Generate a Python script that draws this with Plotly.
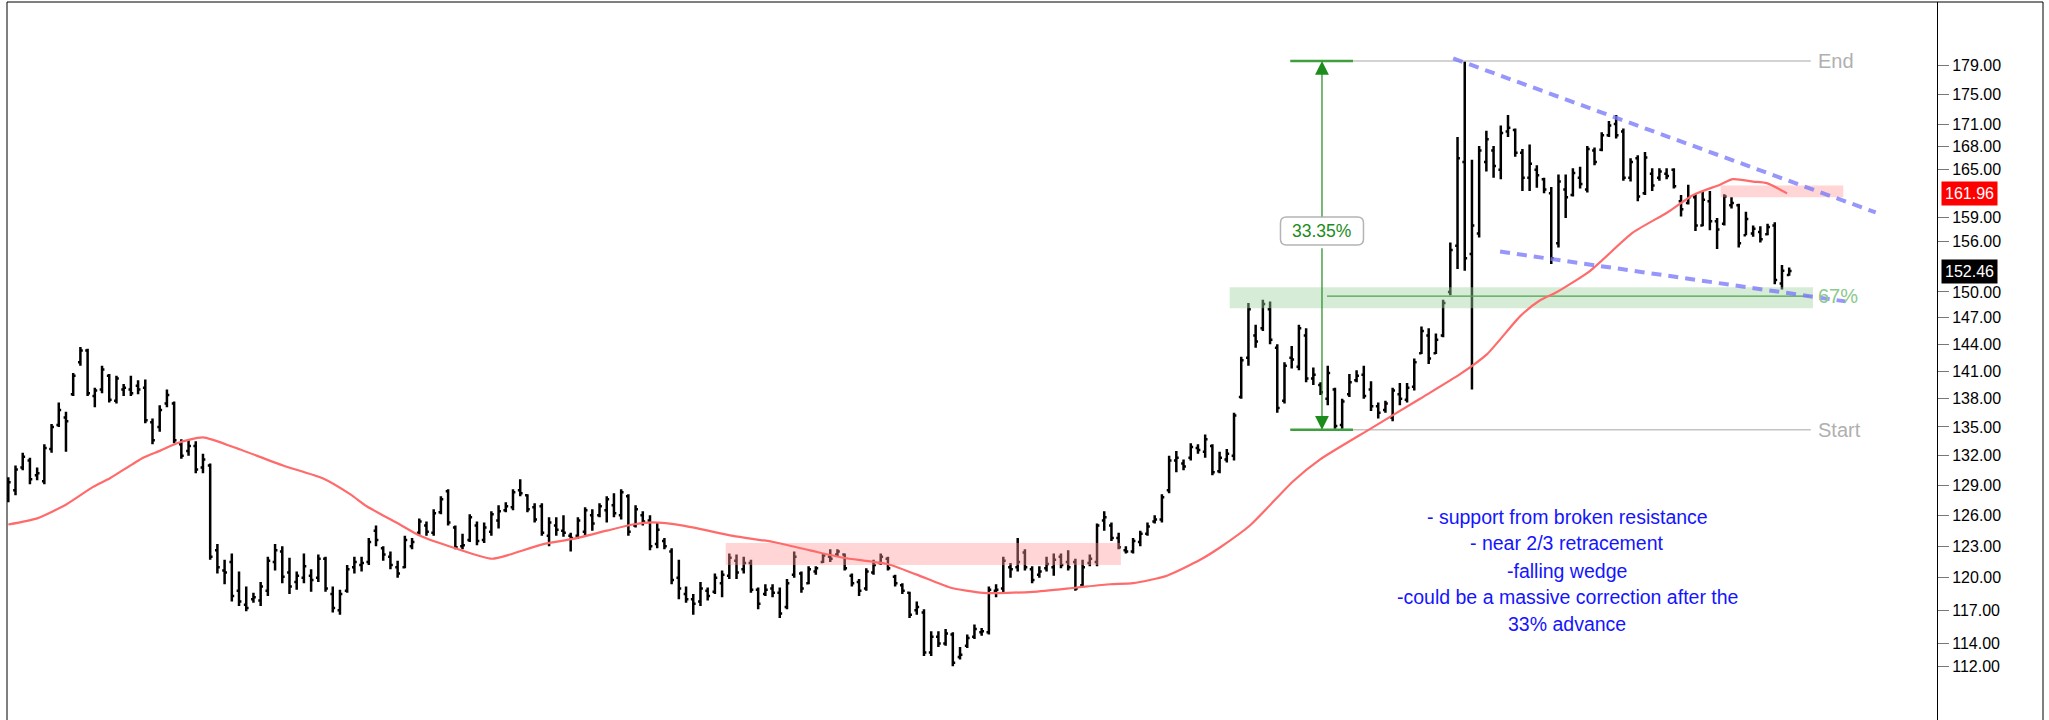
import math
import plotly.graph_objects as go

# ---- daily OHLC bars ----
highs = [
    129.8, 131.0, 132.3, 131.8, 130.8, 133.2, 135.3, 137.6, 136.6, 140.8,
    143.7, 143.5, 139.2, 141.6, 140.7, 140.5, 139.6, 140.5, 140.0, 140.1,
    135.9, 137.3, 139.0, 137.7, 133.7, 133.7, 133.5, 132.2, 131.2, 123.2,
    121.7, 122.3, 120.6, 119.2, 118.6, 119.6, 122.0, 123.2, 123.0, 121.9,
    120.6, 122.3, 120.8, 122.2, 122.0, 119.2, 118.9, 121.2, 122.0, 122.0,
    123.8, 125.0, 123.0, 122.5, 121.6, 124.0, 123.8, 125.7, 125.4, 126.6,
    127.9, 128.6, 125.0, 124.2, 126.1, 125.4, 125.3, 126.4, 127.0, 127.3,
    128.6, 129.6, 128.1, 127.2, 127.2, 125.8, 125.8, 126.0, 124.3, 125.8,
    126.8, 126.6, 127.2, 127.9, 128.2, 128.6, 128.1, 127.0, 126.4, 126.0,
    125.3, 123.8, 122.8, 121.7, 119.2, 118.5, 119.6, 119.1, 120.4, 120.7,
    122.3, 122.2, 122.0, 121.7, 119.1, 119.4, 119.4, 119.1, 119.9, 122.5,
    120.6, 121.1, 121.1, 122.3, 122.7, 122.7, 122.3, 120.4, 119.9, 120.9,
    121.7, 122.3, 122.0, 120.3, 119.5, 118.7, 117.8, 117.1, 115.1, 115.1,
    115.3, 115.0, 113.7, 114.8, 115.7, 115.4, 119.2, 119.4, 122.0, 121.4,
    123.8, 122.7, 121.1, 121.1, 122.0, 122.3, 122.3, 122.6, 121.8, 121.7,
    122.2, 125.2, 126.4, 125.3, 124.3, 123.0, 123.8, 124.5, 125.3, 126.0,
    128.1, 132.0, 132.5, 131.6, 133.3, 133.2, 134.2, 133.2, 132.4, 132.7,
    136.5, 142.6, 148.7, 146.2, 149.1, 148.9, 144.0, 142.0, 143.8, 146.2,
    145.8, 141.4, 139.8, 141.6, 139.2, 138.0, 140.7, 141.1, 141.6, 139.9,
    137.6, 137.8, 139.2, 139.7, 139.7, 142.4, 146.0, 145.8, 145.2, 149.1,
    155.9, 169.3, 179.62, 166.3, 168.1, 170.1, 168.1, 170.8, 172.2, 170.4,
    167.7, 168.3, 165.6, 164.0, 162.8, 164.4, 164.4, 165.2, 165.4, 168.1,
    167.9, 169.9, 171.4, 172.2, 170.4, 166.5, 166.9, 167.3, 165.2, 165.2,
    165.2, 165.2, 161.8, 163.1, 161.9, 162.3, 162.3, 158.9, 161.9, 161.5,
    160.7, 159.7, 158.0, 157.9, 158.2, 158.4, 153.2, 152.9,
]
lows = [
    127.3, 128.0, 130.5, 129.1, 129.5, 129.1, 132.3, 135.0, 132.4, 138.3,
    141.6, 138.3, 137.1, 138.6, 137.6, 137.5, 138.3, 138.3, 138.5, 135.4,
    133.2, 134.5, 137.1, 133.3, 131.7, 132.0, 130.2, 130.2, 121.7, 120.4,
    119.4, 117.8, 117.4, 116.9, 117.7, 117.4, 118.3, 120.7, 119.5, 118.5,
    118.9, 119.5, 118.7, 119.6, 118.7, 116.8, 116.6, 118.6, 120.4, 120.6,
    121.2, 123.0, 121.6, 120.8, 120.0, 120.9, 122.7, 124.1, 124.0, 124.0,
    126.1, 125.0, 122.7, 122.7, 123.4, 123.1, 123.3, 124.0, 124.7, 126.3,
    126.5, 127.9, 126.3, 125.3, 124.0, 123.0, 124.0, 123.9, 122.5, 123.7,
    124.0, 124.5, 125.8, 125.3, 125.8, 125.6, 124.0, 124.8, 125.0, 122.6,
    122.8, 122.7, 119.4, 118.0, 117.7, 116.6, 117.4, 117.9, 118.5, 118.2,
    119.9, 119.9, 120.4, 118.6, 117.1, 118.3, 118.2, 116.3, 117.1, 120.0,
    118.6, 119.4, 120.3, 121.4, 121.5, 122.0, 120.7, 119.2, 118.3, 118.8,
    120.3, 121.2, 120.7, 119.2, 118.5, 116.3, 116.6, 112.9, 112.9, 113.7,
    113.8, 112.0, 112.6, 113.6, 114.4, 114.7, 114.8, 118.2, 118.6, 120.0,
    120.6, 120.7, 119.5, 120.0, 120.6, 120.2, 120.9, 120.7, 118.8, 119.2,
    121.1, 121.1, 124.5, 123.5, 122.7, 122.3, 122.3, 123.0, 124.0, 125.2,
    125.3, 128.2, 130.3, 130.5, 131.5, 132.2, 131.8, 130.0, 130.2, 131.3,
    131.5, 138.0, 141.6, 143.6, 145.5, 144.0, 136.5, 137.5, 141.3, 141.1,
    139.8, 139.5, 138.4, 137.3, 134.8, 134.8, 138.2, 139.8, 138.0, 136.7,
    135.9, 136.5, 135.6, 137.3, 137.6, 138.9, 142.9, 141.8, 142.9, 144.8,
    149.6, 152.7, 152.5, 139.0, 156.5, 164.8, 164.0, 163.8, 169.3, 166.7,
    162.3, 162.3, 162.7, 162.0, 153.3, 155.3, 158.9, 161.6, 162.6, 162.1,
    165.6, 167.4, 169.3, 169.1, 163.6, 163.5, 161.0, 161.8, 162.3, 163.6,
    163.8, 162.6, 159.1, 160.6, 157.3, 157.9, 157.4, 155.1, 158.0, 160.1,
    155.3, 156.8, 156.6, 155.9, 156.8, 150.9, 150.3, 151.9,
]
opens = [
    128.0, 128.5, 130.8, 131.5, 130.0, 129.4, 132.7, 135.2, 136.0, 138.5,
    142.0, 143.3, 138.3, 139.0, 140.5, 137.8, 139.0, 139.0, 139.4, 139.2,
    135.5, 135.0, 137.5, 137.5, 133.2, 132.5, 133.0, 130.8, 131.0, 122.6,
    120.7, 121.5, 118.8, 117.5, 118.0, 117.9, 118.8, 121.5, 122.5, 120.5,
    119.6, 120.0, 120.2, 120.0, 121.8, 118.5, 117.0, 118.8, 121.0, 121.2,
    121.5, 124.5, 122.8, 122.0, 121.0, 121.0, 123.0, 124.3, 125.0, 124.3,
    126.3, 128.4, 124.8, 123.0, 123.6, 125.0, 123.6, 124.4, 125.5, 126.5,
    126.8, 128.5, 128.0, 126.8, 126.9, 124.0, 125.0, 124.5, 124.0, 124.0,
    124.4, 126.0, 126.0, 126.5, 127.0, 126.0, 127.9, 125.0, 126.0, 125.5,
    123.2, 123.5, 122.5, 120.0, 118.5, 118.0, 117.8, 118.8, 118.7, 119.5,
    120.2, 121.6, 120.8, 121.4, 118.9, 118.5, 119.0, 118.6, 117.3, 120.3,
    120.4, 119.5, 120.6, 121.5, 122.0, 122.2, 122.2, 120.2, 119.6, 119.0,
    120.5, 121.4, 121.8, 120.1, 119.3, 118.6, 117.0, 116.8, 113.2, 114.6,
    114.0, 114.8, 112.8, 113.8, 114.6, 115.0, 115.0, 118.8, 119.0, 121.0,
    121.0, 122.4, 120.8, 120.3, 120.9, 121.0, 122.0, 121.5, 121.5, 119.3,
    121.4, 121.5, 125.5, 125.0, 123.8, 122.6, 122.5, 123.4, 124.2, 125.4,
    125.6, 128.5, 131.5, 131.2, 131.8, 132.8, 132.4, 133.0, 130.4, 131.6,
    132.0, 138.2, 142.5, 145.0, 145.8, 148.0, 143.6, 137.8, 142.5, 141.5,
    145.0, 140.2, 139.5, 138.0, 139.0, 135.2, 138.5, 140.0, 140.6, 139.0,
    137.2, 136.8, 136.0, 138.5, 137.9, 139.3, 143.0, 145.0, 143.0, 145.0,
    150.0, 155.5, 166.0, 154.5, 157.0, 166.0, 167.5, 165.0, 170.0, 170.2,
    167.2, 164.0, 165.0, 163.8, 162.0, 155.8, 162.5, 161.8, 164.0, 162.5,
    167.5, 167.6, 169.5, 171.0, 170.0, 164.0, 166.5, 162.0, 164.5, 164.0,
    164.5, 165.0, 161.0, 160.8, 161.5, 158.0, 161.0, 158.5, 158.2, 160.5,
    160.5, 156.8, 157.0, 157.2, 156.9, 158.0, 151.0, 152.0,
]
closes = [
    129.3, 130.6, 131.9, 129.6, 130.2, 132.8, 135.0, 136.8, 135.6, 140.5,
    143.3, 138.6, 138.9, 141.2, 137.9, 140.2, 139.2, 138.6, 139.0, 135.7,
    133.6, 136.8, 138.4, 133.6, 132.0, 133.0, 130.6, 131.6, 122.0, 121.0,
    120.5, 118.3, 117.8, 117.2, 118.2, 119.2, 121.6, 122.6, 120.1, 119.2,
    120.2, 121.1, 119.8, 121.8, 119.0, 117.2, 118.5, 120.8, 121.5, 121.4,
    123.4, 123.6, 122.2, 121.2, 120.4, 123.6, 123.4, 125.4, 124.4, 126.2,
    127.6, 125.3, 122.9, 123.1, 125.8, 123.5, 124.8, 126.1, 126.4, 126.9,
    128.3, 128.2, 126.6, 125.6, 124.3, 125.3, 124.6, 124.3, 123.8, 125.5,
    126.5, 125.2, 126.9, 127.6, 126.2, 128.3, 124.4, 126.6, 125.4, 123.0,
    124.6, 123.0, 119.8, 119.0, 118.0, 117.6, 119.0, 118.3, 120.0, 120.3,
    121.9, 120.5, 121.4, 118.9, 117.6, 118.9, 118.6, 116.7, 119.5, 122.0,
    119.0, 120.8, 120.9, 122.1, 121.8, 122.5, 120.9, 119.5, 118.8, 120.6,
    121.2, 122.0, 120.9, 119.5, 118.8, 116.6, 117.3, 113.2, 114.6, 114.0,
    114.9, 112.3, 113.0, 114.5, 115.3, 115.1, 118.9, 118.9, 121.6, 120.8,
    121.5, 121.0, 119.8, 120.6, 121.3, 121.7, 121.2, 121.0, 119.0, 121.0,
    121.8, 125.0, 125.8, 123.8, 122.9, 122.5, 123.5, 124.2, 124.9, 125.6,
    127.8, 131.5, 131.8, 130.9, 132.9, 132.6, 133.7, 130.3, 131.8, 132.2,
    136.2, 142.2, 148.0, 144.3, 148.6, 144.5, 137.0, 141.6, 142.3, 145.8,
    140.2, 140.6, 138.7, 140.8, 135.1, 137.7, 139.8, 140.5, 138.3, 137.2,
    136.5, 137.5, 138.9, 138.0, 139.2, 142.0, 145.5, 142.4, 144.5, 148.7,
    155.0, 166.5, 154.0, 158.0, 167.5, 169.0, 165.5, 169.8, 170.5, 167.2,
    164.0, 165.8, 164.3, 162.5, 154.0, 163.5, 161.5, 164.6, 163.2, 167.7,
    166.0, 169.5, 170.8, 169.5, 164.0, 166.0, 161.6, 166.6, 163.0, 164.8,
    164.2, 162.9, 160.0, 161.5, 158.0, 161.2, 158.5, 157.5, 161.6, 160.8,
    155.8, 158.8, 157.6, 156.3, 157.8, 151.4, 152.5, 152.46,
]
bars = list(range(len(highs)))

# ---- 50-day moving average (bar index, value) ----
ma_idx = [0.0, 4.0, 8.1, 11.7, 14.1, 18.7, 21.0, 23.4, 27.0, 31.2,
          38.1, 43.6, 47.4, 49.7, 54.3, 57.1, 62.0, 67.1, 69.6, 74.2,
          78.3, 83.0, 86.6, 89.4, 93.6, 100.5, 106.1, 111.2, 115.8, 121.9,
          126.0, 130.6, 135.2, 142.1, 148.2, 152.8, 156.0, 160.7, 165.3, 168.1,
          172.2, 178.2, 181.9, 188.9, 195.8, 201.4, 205.1, 209.7, 212.4, 214.8,
          219.4, 225.3, 230.1, 233.7, 237.4, 239.2, 242.0, 243.9, 246.7]
ma_val = [125.1, 125.7, 127.1, 128.8, 129.7, 131.8, 132.5, 133.3, 133.9, 132.9,
          131.0, 129.7, 128.1, 126.9, 125.1, 124.0, 122.8, 121.8, 122.2, 123.2,
          123.7, 124.5, 125.1, 125.3, 125.0, 124.0, 123.4, 122.6, 121.9, 121.3,
          120.3, 119.1, 118.6, 118.7, 119.1, 119.4, 119.5, 120.2, 121.7, 122.9,
          125.0, 129.4, 131.6, 134.8, 138.0, 140.7, 142.9, 147.2, 149.0, 150.0,
          152.5, 157.1, 159.6, 161.8, 163.1, 163.8, 163.5, 163.3, 162.0]

# ---- price axis ticks ----
ytick_vals = [112, 114, 117, 120, 123, 126, 129, 132, 135, 138, 141, 144,
              147, 150, 156, 159, 165, 168, 171, 175, 179]
ytick_text = [f"{v:.2f}" for v in ytick_vals]

# ---- measured move and retracement ----
move_start = 134.7
move_end = 179.62
move_bar = 182.2               # bar index where the measuring arrow sits
move_from, move_to = 182.9, 250.0
retrace_frac = 0.67
retrace_level = move_end - retrace_frac * (move_end - move_start)

# ---- zones ----
support_zone = dict(x0=169.4, x1=250.3, lo=148.1, hi=150.55)
resist_zone_old = dict(x0=99.5, x1=154.3, lo=121.2, hi=123.3)
resist_zone_new = dict(x0=237.5, x1=254.5, lo=161.5, hi=163.0)

# ---- wedge trend lines (bar index, price) ----
wedge_upper = ([200.4, 259.0], [180.0, 159.6])
wedge_lower = ([206.9, 254.8], [154.8, 148.9])

last_ma = 161.96
last_close = closes[-1]

notes = ["- support from broken resistance",
         "- near 2/3 retracement",
         "-falling wedge",
         "-could be a massive correction after the",
         "33% advance"]

# ---- geometry of the page ----
W, H = 2049, 720
ML, MR, MT, MB = 7, 112, 2, 0
plot_w = W - ML - MR
plot_h = H - MT - MB
x_range = [-0.18, 267.5]
y_range = [2.03099, 2.27438]

def xp(px):
    return (px - ML) / plot_w

def yp(py):
    return 1 - (py - MT) / plot_h

FONT = "Arial, Liberation Sans, sans-serif"

fig = go.Figure()

def zone(z, color):
    fig.add_trace(go.Scatter(
        x=[z["x0"], z["x1"], z["x1"], z["x0"], z["x0"]],
        y=[z["lo"], z["lo"], z["hi"], z["hi"], z["lo"]],
        fill="toself", fillcolor=color, mode="lines",
        line=dict(width=0), hoverinfo="skip", showlegend=False))

zone(support_zone, "rgba(160,210,160,0.42)")
zone(resist_zone_old, "rgba(255,150,150,0.40)")
zone(resist_zone_new, "rgba(255,150,150,0.40)")

def hline(x0, x1, y, color, width):
    fig.add_trace(go.Scatter(x=[x0, x1], y=[y, y], mode="lines",
                             line=dict(color=color, width=width),
                             hoverinfo="skip", showlegend=False))

# start / end reference lines and the 67% retracement line
hline(move_from, move_to, move_end, "#c4c4c4", 1.5)
hline(move_from, move_to, move_start, "#c4c4c4", 1.5)
hline(move_from, move_to, retrace_level, "#4ea24e", 1.2)
hline(move_bar - 4.4, move_bar + 4.3, move_end, "#3f9f3f", 2.5)
hline(move_bar - 4.4, move_bar + 4.3, move_start, "#3f9f3f", 2.5)

# OHLC bars
fig.add_trace(go.Ohlc(
    x=bars, open=opens, high=highs, low=lows, close=closes,
    increasing=dict(line=dict(color="black", width=2.5)),
    decreasing=dict(line=dict(color="black", width=2.5)),
    tickwidth=0.33, hoverinfo="skip", showlegend=False))

# moving average
fig.add_trace(go.Scatter(x=ma_idx, y=ma_val, mode="lines",
                         line=dict(color="#ff6b6b", width=2.2, shape="spline", smoothing=0.6),
                         hoverinfo="skip", showlegend=False))

# falling wedge
for wx, wy in (wedge_upper, wedge_lower):
    fig.add_trace(go.Scatter(x=wx, y=wy, mode="lines",
                             line=dict(color="rgba(120,120,250,0.78)", width=4, dash="10px,7px"),
                             hoverinfo="skip", showlegend=False))

annotations = []

# measuring arrow (two halves, leaving room for the percentage box)
GREEN = "#1c8c1c"
annotations.append(dict(x=move_bar, y=math.log10(move_end), xref="x", yref="y",
                        text="", showarrow=True, ax=0, ay=157,
                        arrowhead=2, arrowsize=2.3, arrowwidth=1.2, arrowcolor=GREEN))
annotations.append(dict(x=move_bar, y=math.log10(move_start), xref="x", yref="y",
                        text="", showarrow=True, ax=0, ay=-183,
                        arrowhead=2, arrowsize=2.3, arrowwidth=1.2, arrowcolor=GREEN))

label_price = 157.3
box_x = (move_bar - x_range[0]) / (x_range[1] - x_range[0])
box_y = (math.log10(label_price) - y_range[0]) / (y_range[1] - y_range[0])
pct = (move_end / move_start - 1) * 100
annotations.append(dict(x=move_bar, y=math.log10(label_price), xref="x", yref="y",
                        text=f"{pct:.2f}%", showarrow=False,
                        font=dict(family=FONT, size=17.5, color=GREEN)))

# End / Start / 67% labels
label_bar = 250.7
for txt, lvl, col in (("End", move_end, "#b0b0b0"),
                      ("Start", move_start, "#b0b0b0"),
                      ("67%", retrace_level, "#8cc98c")):
    annotations.append(dict(x=label_bar, y=math.log10(lvl), xref="x", yref="y",
                            text=txt, showarrow=False, xanchor="left",
                            font=dict(family=FONT, size=20, color=col)))

# commentary
note_y = [516.7, 543.3, 570.7, 597.3, 624.0]
for txt, py in zip(notes, note_y):
    annotations.append(dict(x=xp(1567), y=yp(py), xref="paper", yref="paper",
                            text=txt, showarrow=False, xanchor="center", yanchor="middle",
                            font=dict(family=FONT, size=19.5, color="#1414ff")))

# last values on the price axis
for val, bg in ((last_ma, "#ff0000"), (last_close, "#000000")):
    annotations.append(dict(x=1, y=math.log10(val), xref="paper", yref="y",
                            text=f"{val:.2f}", showarrow=False, xanchor="left",
                            xshift=4, bgcolor=bg, borderpad=3,
                            font=dict(family=FONT, size=16, color="white")))

shapes = [
    # rounded box behind the percentage
    dict(type="path", xref="paper", yref="paper", xsizemode="pixel", ysizemode="pixel",
         xanchor=box_x, yanchor=box_y,
         path="M -35.5,-14 L 35.5,-14 Q 41.5,-14 41.5,-8 L 41.5,8 Q 41.5,14 35.5,14 "
              "L -35.5,14 Q -41.5,14 -41.5,8 L -41.5,-8 Q -41.5,-14 -35.5,-14 Z",
         line=dict(color="#b4b4b4", width=1.5), fillcolor="white", layer="above"),
    # outer frame
    dict(type="rect", xref="paper", yref="paper", x0=0, x1=xp(2043), y0=-0.02, y1=1,
         line=dict(color="black", width=1)),
]

fig.update_layout(
    width=W, height=H,
    margin=dict(l=ML, r=MR, t=MT, b=MB, pad=0),
    paper_bgcolor="white", plot_bgcolor="white",
    showlegend=False,
    annotations=annotations, shapes=shapes,
    xaxis=dict(range=x_range, visible=False, showgrid=False, zeroline=False,
               rangeslider=dict(visible=False), fixedrange=True),
    yaxis=dict(type="log", range=y_range, side="right",
               tickmode="array", tickvals=ytick_vals, ticktext=ytick_text,
               ticks="outside", ticklen=11, tickwidth=1, tickcolor="#777",
               tickfont=dict(family=FONT, size=16, color="black"),
               showline=True, linecolor="black", linewidth=1,
               showgrid=False, zeroline=False, automargin=False, fixedrange=True),
)

fig.write_html("out.html")
